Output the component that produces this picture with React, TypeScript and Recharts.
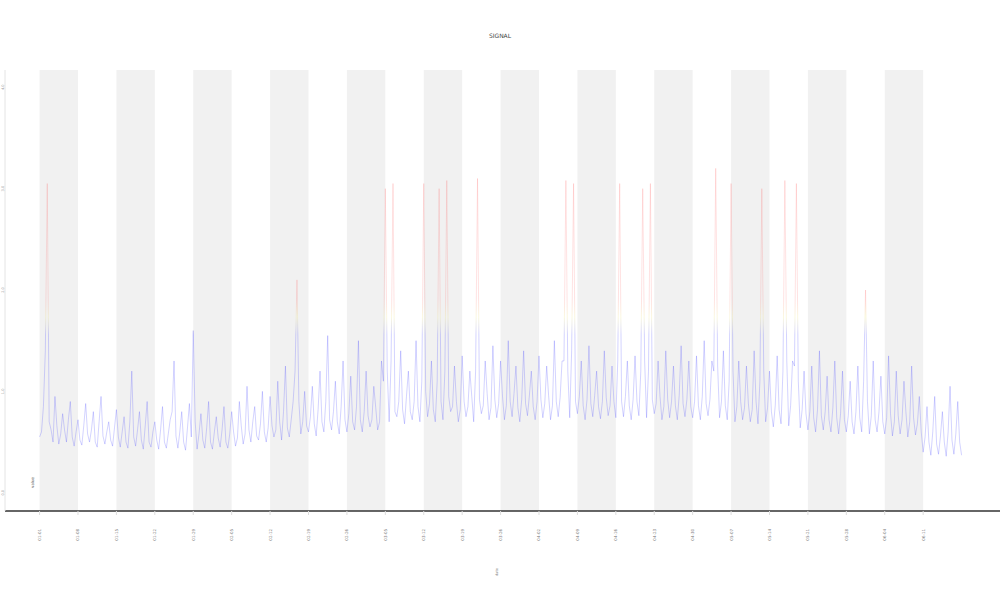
import React from 'react';
import { LineChart, Line, XAxis, YAxis, ReferenceArea } from 'recharts';

// samples on the whole tenths of the x unit (y-axis units)
const signalA = [
  0.55, 0.85, 3.05, 0.62, 0.95, 0.48, 0.78, 0.5, 0.9, 0.46,
  0.72, 0.47, 0.88, 0.5, 0.8, 0.45, 0.95, 0.48, 0.7, 0.46,
  0.82, 0.45, 0.75, 0.44, 1.2, 0.46, 0.8, 0.43, 0.9, 0.45,
  0.7, 0.43, 0.85, 0.44, 0.72, 1.3, 0.44, 0.8, 0.42, 0.88,
  1.6, 0.43, 0.78, 0.44, 0.9, 0.43, 0.75, 0.45, 0.85, 0.44,
  0.8, 0.46, 0.9, 0.48, 1.05, 0.5, 0.85, 0.52, 1.0, 0.5,
  0.95, 0.55, 1.1, 0.52, 1.25, 0.55, 0.9, 2.1, 0.58, 1.0,
  0.6, 1.05, 0.56, 1.2, 0.6, 1.55, 0.62, 1.1, 0.58, 1.3,
  0.6, 1.15, 0.62, 1.5, 0.6, 1.2, 0.65, 1.05, 0.62, 1.3,
  3.0, 0.7, 3.05, 0.75, 1.4, 0.68, 1.2, 0.72, 1.5, 0.7,
  3.05, 0.75, 1.3, 0.7, 3.0, 0.72, 3.08, 0.8, 1.25, 0.7,
  1.35, 0.75, 1.2, 0.7, 3.1, 0.78, 1.3, 0.72, 1.45, 0.74,
  1.3, 0.72, 1.5, 0.75, 1.25, 0.7, 1.4, 0.76, 1.2, 0.72,
  1.35, 0.74, 1.25, 0.72, 1.5, 0.75, 1.3, 3.08, 0.74, 3.05,
  0.78, 1.3, 0.72, 1.45, 0.75, 1.2, 0.73, 1.4, 0.76, 1.25,
  0.74, 3.05, 0.75, 1.3, 0.72, 1.35, 0.76, 3.0, 0.74, 3.05,
  0.78, 1.3, 0.72, 1.4, 0.74, 1.25, 0.72, 1.45, 0.75, 1.3,
  0.74, 1.35, 0.72, 1.5, 0.76, 1.3, 3.2, 0.74, 1.4, 0.72,
  3.05, 0.7, 1.3, 0.72, 1.25, 0.7, 1.4, 0.68, 3.0, 0.7,
  1.2, 0.65, 1.35, 0.68, 3.08, 0.66, 1.3, 3.05, 0.64, 1.2,
  0.62, 1.25, 0.6, 1.4, 0.62, 1.15, 0.6, 1.3, 0.58, 1.2,
  0.6, 1.1, 0.58, 1.25, 0.6, 2.0, 0.58, 1.3, 0.6, 1.15,
  0.58, 1.35, 0.56, 1.2, 0.58, 1.1, 0.55, 1.25, 0.57, 0.95,
  0.4, 0.85, 0.37, 0.95, 0.38, 0.8, 0.36, 1.05, 0.38, 0.9, 0.37,
];

// samples halfway between those above
const signalB = [
  0.6, 1.4, 0.7, 0.5, 0.66, 0.58, 0.62, 0.72, 0.55, 0.6,
  0.52, 0.66, 0.58, 0.62, 0.5, 0.7, 0.56, 0.6, 0.52, 0.64,
  0.55, 0.6, 0.5, 0.7, 0.55, 0.62, 0.52, 0.66, 0.5, 0.6,
  0.52, 0.62, 0.5, 0.58, 0.8, 0.56, 0.6, 0.5, 0.64, 0.55,
  0.7, 0.58, 0.52, 0.64, 0.5, 0.6, 0.54, 0.62, 0.5, 0.58,
  0.6, 0.54, 0.66, 0.58, 0.62, 0.7, 0.56, 0.68, 0.6, 0.64,
  0.66, 0.62, 0.7, 0.8, 0.64, 0.72, 1.2, 0.9, 0.7, 0.66,
  0.75, 0.68, 0.82, 0.7, 0.9, 0.72, 0.8, 0.7, 0.85, 0.72,
  0.78, 0.7, 0.85, 0.72, 0.8, 0.76, 0.72, 0.84, 0.7, 1.1,
  1.2, 1.3, 0.8, 0.9, 0.82, 0.95, 0.8, 0.9, 0.85, 1.1,
  1.0, 0.88, 0.82, 1.1, 0.9, 1.2, 0.95, 0.85, 0.9, 0.82,
  0.9, 0.85, 0.95, 1.2, 0.92, 0.86, 0.98, 0.84, 0.92, 0.88,
  0.95, 0.86, 0.9, 0.98, 0.84, 0.92, 0.88, 0.96, 0.85, 0.9,
  0.92, 0.88, 0.96, 0.86, 0.9, 0.94, 1.3, 1.2, 1.4, 0.9,
  0.95, 0.86, 0.92, 0.88, 0.96, 0.85, 0.9, 0.94, 0.86, 0.9,
  1.3, 0.9, 0.95, 0.86, 0.92, 0.9, 1.2, 1.3, 1.2, 0.92,
  0.88, 0.95, 0.85, 0.92, 0.9, 0.86, 0.96, 0.88, 0.92, 0.85,
  0.9, 0.86, 0.95, 0.88, 0.92, 1.2, 1.25, 0.9, 0.86, 1.1,
  1.2, 0.85, 0.9, 0.84, 0.88, 0.82, 0.9, 1.1, 1.2, 0.84,
  0.8, 0.86, 0.82, 1.2, 1.3, 0.86, 1.25, 1.1, 0.82, 0.78,
  0.8, 0.74, 0.82, 0.76, 0.8, 0.72, 0.84, 0.74, 0.78, 0.72,
  0.76, 0.7, 0.8, 0.74, 1.1, 0.9, 0.76, 0.72, 0.8, 0.7,
  0.74, 0.78, 0.7, 0.76, 0.72, 0.8, 0.7, 0.74, 0.68, 0.6,
  0.55, 0.5, 0.6, 0.48, 0.56, 0.5, 0.6, 0.52, 0.58, 0.5,
];

const tickLabels = [
  '01-01', '01-08', '01-15', '01-22', '01-29', '02-05', '02-12', '02-19',
  '02-26', '03-05', '03-12', '03-19', '03-26', '04-02', '04-09', '04-16',
  '04-23', '04-30', '05-07', '05-14', '05-21', '05-28', '06-04', '06-11',
];
const yTicks = [0, 1, 2, 3, 4];
const shadedStarts = [0, 2, 4, 6, 8, 10, 12, 14, 16, 18, 20, 22];

const data: { t: number; v: number }[] = [];
signalA.forEach((v, i) => {
  data.push({ t: i / 10, v });
  if (i < signalB.length) data.push({ t: i / 10 + 0.05, v: signalB[i] });
});

const XTick = (props: any) => {
  const { x, y, payload } = props;
  return (
    <text x={x} y={y} transform={`rotate(-90 ${x} ${y})`} textAnchor="end" dy={1.5}
      fontSize={4} fill="#777" fontFamily="DejaVu Sans">
      {tickLabels[payload.value]}
    </text>
  );
};

const YTick = (props: any) => {
  const { x, y, payload } = props;
  return (
    <text x={x} y={y} transform={`rotate(-90 ${x} ${y})`} textAnchor="middle"
      fontSize={3.5} fill="#999" fontFamily="DejaVu Sans">
      {payload.value.toFixed(1)}
    </text>
  );
};

export default function App() {
  return (
    <div style={{ position: 'absolute', left: 0, top: 0, width: 1000, height: 600, background: '#fff' }}>
      <div style={{ position: 'absolute', left: 0, top: 32, width: 1000, textAlign: 'center',
        fontFamily: 'DejaVu Sans', fontSize: 6, color: '#444' }}>
        SIGNAL
      </div>
      <LineChart width={1000} height={600} data={data} margin={{ top: 70, right: 0, bottom: 0, left: 0 }}>
        <defs>
          {/* blue for normal values, yellow then faint red for the peaks */}
          <linearGradient id="valueColor" gradientUnits="userSpaceOnUse" x1="0" y1="511" x2="0" y2="70">
            <stop offset="0" stopColor="#3a3aff" />
            <stop offset="0.4" stopColor="#3a3aff" />
            <stop offset="0.44" stopColor="#e6dc50" stopOpacity={0.8} />
            <stop offset="0.48" stopColor="#ff2a2a" stopOpacity={0.6} />
            <stop offset="1" stopColor="#ff2020" stopOpacity={0.6} />
          </linearGradient>
        </defs>
        {shadedStarts.map((s) => (
          <ReferenceArea key={s} x1={s} x2={s + 1} fill="#f1f1f1" fillOpacity={1} stroke="none" />
        ))}
        <XAxis dataKey="t" type="number" domain={[-0.9, 25]} ticks={tickLabels.map((_, i) => i)}
          height={89} tick={<XTick />} tickSize={4} tickMargin={14}
          tickLine={{ stroke: '#ddd' }} axisLine={{ stroke: '#333', strokeWidth: 1.5 }} allowDataOverflow />
        <XAxis xAxisId="top" orientation="top" dataKey="t" type="number" domain={[-0.9, 25]}
          height={0} tick={false} tickLine={false} axisLine={{ stroke: '#888', strokeWidth: 2 }} />
        <YAxis type="number" domain={[-0.18, 4.17]} ticks={yTicks} width={5} tick={<YTick />}
          tickSize={0} tickMargin={1} axisLine={{ stroke: '#e4e4e4' }} allowDataOverflow />
        <Line dataKey="v" type="linear" stroke="url(#valueColor)" strokeWidth={0.5} strokeOpacity={0.45}
          dot={false} isAnimationActive={false} />
      </LineChart>
      <div style={{ position: 'absolute', left: 27, top: 480, transform: 'rotate(-90deg)',
        fontFamily: 'DejaVu Sans', fontSize: 4, color: '#555' }}>
        value
      </div>
      <div style={{ position: 'absolute', left: 493, top: 570, transform: 'rotate(-90deg)',
        fontFamily: 'DejaVu Sans', fontSize: 3.5, color: '#888' }}>
        date
      </div>
    </div>
  );
}
